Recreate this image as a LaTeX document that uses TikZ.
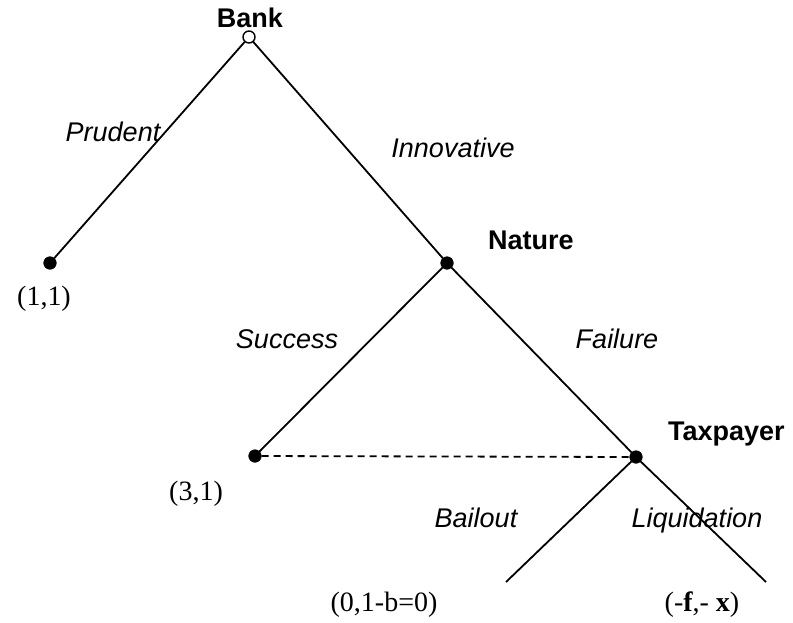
\documentclass[tikz,border=0pt]{standalone}
\usepackage{fontspec}
\setmainfont{Liberation Serif}
\setsansfont{Liberation Sans}
\usetikzlibrary{shapes,arrows}
\tikzstyle{decision} = [circle, draw, fill=black, inner sep=0pt, minimum size=6.2pt]
\tikzstyle{start} = [circle, draw, fill=white, inner sep=0pt, minimum size=6pt, line width=0.7pt]
\tikzstyle{player} = [font=\sffamily\bfseries\fontsize{13.5}{16}\selectfont]
\tikzstyle{move} = [anchor=base, font=\sffamily\itshape\fontsize{13.5}{16}\selectfont]
\tikzstyle{payoff} = [font=\fontsize{14}{16}\selectfont]
\tikzstyle{line} = [draw, line width=0.9pt]

\begin{document}
\begin{tikzpicture}[x=0.5pt, y=-0.5pt]
    \useasboundingbox (0,0) rectangle (793,622);
    % Place nodes
    \node [start] (bank) at (249,37) {};
    \node [decision] (prudent) at (50,263) {};
    \node [decision] (nature) at (447,263) {};
    \node [decision] (success) at (255,456) {};
    \node [decision] (taxpayer) at (636,457) {};
    \coordinate (bailout) at (506,582);
    \coordinate (liquid) at (766,582);
    % Players
    \node [player] (banktxt) at (250,18) {Bank};
    \node [player, anchor=west] (naturetxt) at (481,240) {Nature};
    \node [player, anchor=west] (taxtxt) at (661,434) {Taxpayer};
    % Moves
    \node [move] (prudtxt) at (113,141) {Prudent};
    \node [move] (innotxt) at (453,157) {Innovative};
    \node [move] (succtxt) at (287,348) {Success};
    \node [move] (failtxt) at (617,348) {Failure};
    \node [move] (bailtxt) at (476,527) {Bailout};
    \node [move] (liqtxt) at (697,527) {Liquidation};
    % Payoffs
    \node [payoff] (pay1) at (44,299) {(1,1)};
    \node [payoff] (pay2) at (196,494) {(3,1)};
    \node [payoff] (pay3) at (384,605) {(0,1-b=0)};
    \node [payoff] (pay4) at (702,605) {(-\textbf{f},- \textbf{x})};
    % Draw edges
    \path [line] (bank) -- (prudent);
    \path [line] (bank) -- (nature);
    \path [line] (nature) -- (success);
    \path [line] (nature) -- (taxpayer);
    \path [line] (taxpayer) -- (bailout);
    \path [line] (taxpayer) -- (liquid);
    \path [line, dash pattern=on 3.5pt off 2.5pt] (success) -- (taxpayer);
\end{tikzpicture}
\end{document}
